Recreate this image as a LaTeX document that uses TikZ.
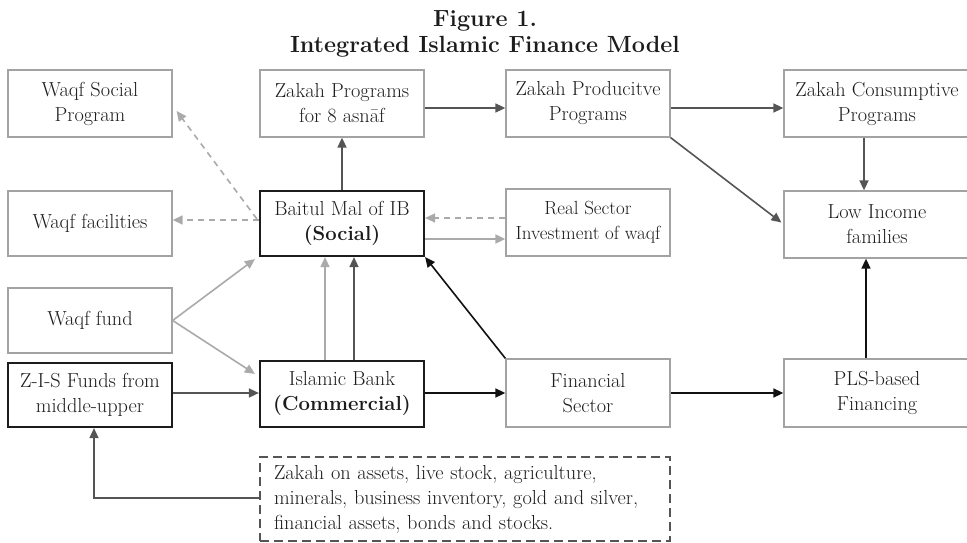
\documentclass[tikz,border=0pt]{standalone}
\usetikzlibrary{arrows.meta,calc}
\definecolor{txt}{HTML}{1C1C1C}
\definecolor{boxgray}{HTML}{A3A3A3}
\definecolor{lightarr}{HTML}{AAAAAA}
\definecolor{darkarr}{HTML}{555555}
\definecolor{blackarr}{HTML}{111111}
\begin{document}
\begin{tikzpicture}[x=1pt,y=-1pt,
  every node/.style={text=txt},
  lbl/.style={font=\fontsize{20.3}{25}\selectfont, align=center},
  plainbox/.style={draw=boxgray, line width=1.3pt, minimum width=164pt, inner sep=0pt, lbl},
  keybox/.style={draw=txt, line width=2.2pt, minimum width=164pt, inner sep=0pt, lbl},
  widebox/.style={plainbox, minimum width=186pt},
  tip/.style={-{Triangle[length=10pt,width=9pt]}},
  lightline/.style={tip, draw=lightarr, line width=1.6pt},
  lightdash/.style={lightline, dash pattern=on 6pt off 5pt},
  darkline/.style={tip, draw=darkarr, line width=1.6pt},
  blackline/.style={tip, draw=blackarr, line width=1.6pt},
]
\useasboundingbox (0,0) rectangle (967,543);

% title
\node[font=\fontsize{23.4}{26}\selectfont\bfseries, align=center, anchor=base] (title) at (485,53)
  {Figure 1.\\Integrated Islamic Finance Model};

% top row
\node[plainbox, minimum height=67pt] (wsp) at (90,103.5) {Waqf Social\\Program};
\node[plainbox, minimum height=67pt] (zp)  at (342,103.5) {Zakah Programs\\for 8 asn\=af};
\node[plainbox, minimum height=67pt] (zpp) at (588,103.5) {Zakah Producitve\\Programs};
\node[widebox, minimum height=67pt] (zcp) at (877,103.5) {Zakah Consumptive\\Programs};

% second row
\node[plainbox, minimum height=65pt] (wfac) at (90,223.5) {Waqf facilities};
\node[keybox, minimum height=65pt] (bm) at (342,223.5) {Baitul Mal of IB\\\textbf{(Social)}};
\node[plainbox, minimum height=67pt, font=\fontsize{19}{25}\selectfont] (rs) at (588,222.5) {Real Sector\\Investment of waqf};
\node[widebox, minimum height=67pt] (li) at (877,224.5) {Low Income\\families};

% third and fourth rows
\node[plainbox, minimum height=65pt] (wf) at (90,320.5) {Waqf fund};
\node[keybox, minimum height=64pt] (zis) at (90,395) {Z-I-S Funds from\\middle-upper};
\node[keybox, minimum height=66pt] (ib) at (342,394) {Islamic Bank\\\textbf{(Commercial)}};
\node[plainbox, minimum height=68pt] (fs) at (588,393) {Financial\\Sector};
\node[widebox, minimum height=68pt] (pls) at (877,393) {PLS-based\\Financing};

% zakah base
\node[draw=darkarr, line width=1.6pt, dash pattern=on 9pt off 5pt,
      minimum width=410pt, minimum height=84pt, inner sep=0pt,
      font=\fontsize{20.3}{25}\selectfont, align=left, text width=382pt] (zb) at (465,499)
  {Zakah on assets, live stock, agriculture,\\minerals, business inventory, gold and silver,\\financial assets, bonds and stocks.};

% zakah flows
\draw[darkline] (bm.north) -- (zp.south);
\draw[darkline] ($(zp.east)+(0,4.5)$) -- ($(zpp.west)+(0,4.5)$);
\draw[darkline] ($(zpp.east)+(0,4.5)$) -- ($(zcp.west)+(0,4.5)$);
\draw[darkline] (zpp.south east) -- ($(li.west)+(-2,-2)$);
\draw[darkline] ($(zcp.south)+(-13,0)$) -- ($(li.north)+(-13,0)$);

% waqf flows
\draw[lightdash] ($(bm.west)+(0,-3.5)$) -- ($(wfac.east)+(0,-3.5)$);
\draw[lightdash] ($(bm.west)+(-2,-4.5)$) -- ($(wsp.east)+(4,7.5)$);
\draw[lightdash] ($(rs.west)+(0,-4.5)$) -- ($(bm.east)+(0,-5.5)$);
\draw[lightline] ($(bm.east)+(0,15.5)$) -- ($(rs.west)+(0,16.5)$);
\draw[lightline] (wf.east) -- ($(bm.south west)+(-4,2)$);
\draw[lightline] (wf.east) -- ($(ib.north west)+(-4,14)$);

% bank flows
\draw[lightline] ($(ib.north)+(-17,0)$) -- ($(bm.south)+(-17,0)$);
\draw[darkline] ($(ib.north)+(12,0)$) -- ($(bm.south)+(12,0)$);
\draw[darkline] ($(zis.east)+(0,-2)$) -- ($(ib.west)+(0,-1)$);
\draw[blackline] ($(ib.east)+(0,-1)$) -- (fs.west);
\draw[blackline] (fs.north west) -- (bm.south east);
\draw[blackline] (fs.east) -- (pls.west);
\draw[blackline] ($(pls.north)+(-11,0)$) -- ($(li.south)+(-11,0)$);

% zakah collection
\draw[darkline] ($(zb.west)+(0,-1)$) -| ($(zis.south)+(4,0)$);
\end{tikzpicture}
\end{document}
